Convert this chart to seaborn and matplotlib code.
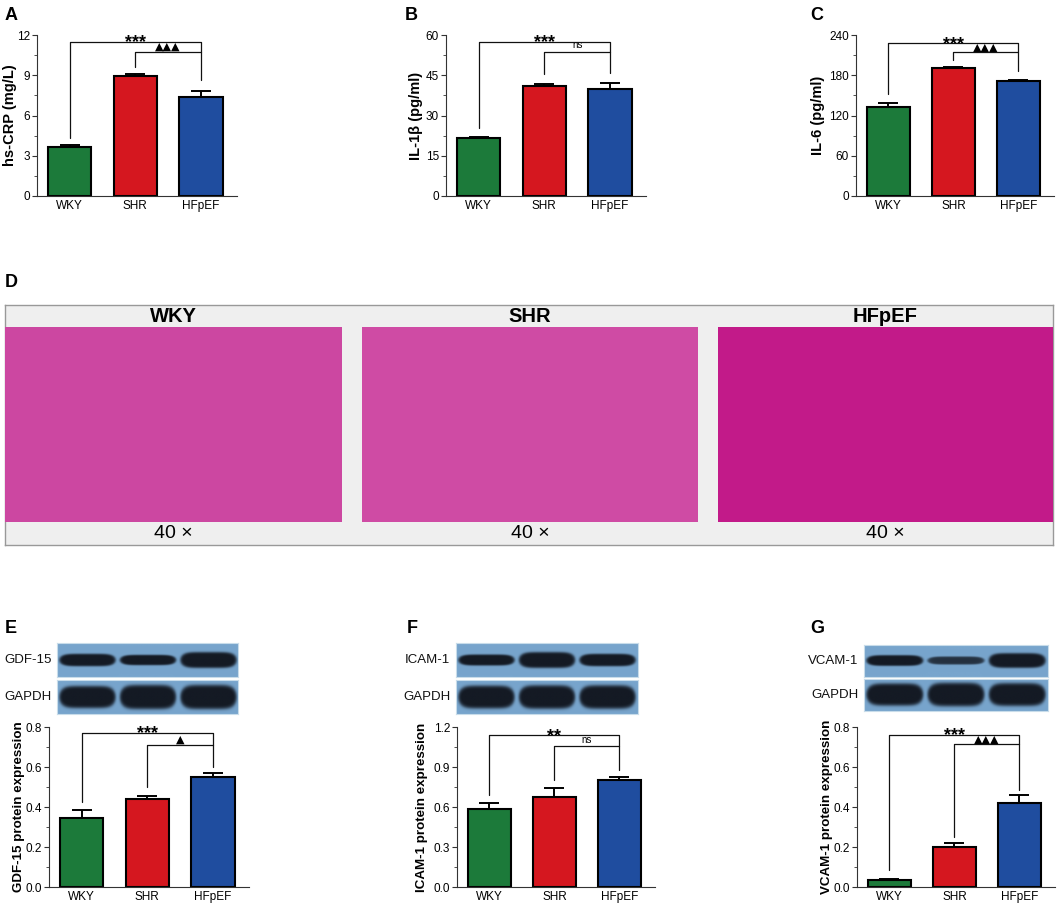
import numpy as np
import pandas as pd
import matplotlib
matplotlib.use("Agg")
import matplotlib.pyplot as plt
import seaborn as sns
from matplotlib.ticker import MultipleLocator, FormatStrFormatter

# ---------------- data ----------------
groups = ["WKY", "SHR", "HFpEF"]
bar_colors = ["#1c7a3a", "#d5171f", "#1f4d9f"]

crp_mean = [3.65, 8.92, 7.38]
crp_sem = [0.15, 0.17, 0.42]
il1b_mean = [21.5, 41.1, 39.8]
il1b_sem = [0.6, 0.8, 2.3]
il6_mean = [132.7, 190.8, 171.4]
il6_sem = [5.3, 2.0, 2.0]
gdf15_mean = [0.347, 0.438, 0.550]
gdf15_sem = [0.036, 0.015, 0.020]
icam1_mean = [0.585, 0.673, 0.800]
icam1_sem = [0.045, 0.067, 0.028]
vcam1_mean = [0.037, 0.200, 0.420]
vcam1_sem = [0.003, 0.022, 0.038]

# brackets: (x1, x2, level, leg1_bottom, leg2_bottom, label)
crp_brackets = [(0, 2, 11.5, 4.3, 10.75, "***"), (1, 2, 10.75, 9.63, 8.64, "▲▲▲")]
il1b_brackets = [(0, 2, 57.5, 25.5, 53.8, "***"), (1, 2, 53.8, 45.5, 46.0, "ns")]
il6_brackets = [(0, 2, 227.6, 151.6, 214.0, "***"), (1, 2, 214.0, 202.7, 186.3, "▲▲▲")]
gdf15_brackets = [(0, 2, 0.770, 0.425, 0.712, "***"), (1, 2, 0.712, 0.50, 0.60, "▲")]
icam1_brackets = [(0, 2, 1.138, 0.688, 1.055, "**"), (1, 2, 1.055, 0.80, 0.875, "ns")]
vcam1_brackets = [(0, 2, 0.762, 0.083, 0.713, "***"), (1, 2, 0.713, 0.25, 0.483, "▲▲▲")]

# western blot band thickness (fraction of strip height) and intensity per lane
gdf15_band = [0.36, 0.30, 0.46]
gdf15_int = [1.0, 1.0, 1.0]
gapdh_e_band = [0.64, 0.70, 0.70]
icam1_band = [0.32, 0.46, 0.36]
icam1_int = [1.0, 1.0, 1.0]
gapdh_f_band = [0.66, 0.68, 0.68]
vcam1_band = [0.32, 0.24, 0.44]
vcam1_int = [1.0, 0.8, 1.0]
gapdh_g_band = [0.66, 0.70, 0.68]
gapdh_int = [1.0, 1.0, 1.0]

histo_titles = ["WKY", "SHR", "HFpEF"]
histo_colors = ["#cc47a1", "#cf4ba4", "#c21a89"]
histo_mag = "40 ×"

# ---------------- figure ----------------
sns.set_theme(style="ticks")
plt.rcParams["font.family"] = ["Liberation Sans", "DejaVu Sans"]
plt.rcParams["axes.linewidth"] = 0.8
for k in ["text.color", "axes.labelcolor", "xtick.color", "ytick.color"]:
    plt.rcParams[k] = "black"

W, H = 1059, 907
fig = plt.figure(figsize=(W / 100, H / 100), dpi=100)
fig.patch.set_facecolor("white")


def ax_px(l, t, r, b, **kw):
    return fig.add_axes([l / W, 1 - b / H, (r - l) / W, (b - t) / H], **kw)


def bar_panel(ax, means, sems, ymax, step, fmt, ylabel, brackets, ylsize, labx):
    df = pd.DataFrame({"group": groups, "value": means})
    sns.barplot(data=df, x="group", y="value", hue="group", palette=bar_colors,
                order=groups, hue_order=groups, width=0.66, edgecolor="black",
                linewidth=1.5, errorbar=None, legend=False, saturation=1, ax=ax, zorder=2)
    ax.errorbar(np.arange(3), means, yerr=[np.zeros(3), sems], fmt="none",
                ecolor="black", elinewidth=1.4, capsize=7.5, capthick=1.4, zorder=3)
    ax.set_xlim(-0.5, 2.55)
    ax.set_ylim(0, ymax)
    ax.yaxis.set_major_locator(MultipleLocator(step))
    ax.yaxis.set_minor_locator(MultipleLocator(step / 2))
    ax.yaxis.set_major_formatter(FormatStrFormatter(fmt))
    ax.tick_params(axis="y", which="major", length=3.5, width=0.8, labelsize=8.5,
                   pad=1.5, color="#333333")
    ax.tick_params(axis="y", which="minor", length=2, width=0.6, color="#333333")
    ax.tick_params(axis="x", length=0, labelsize=8.5, pad=3)
    for s in ["top", "right"]:
        ax.spines[s].set_visible(False)
    for s in ["left", "bottom"]:
        ax.spines[s].set_color("#333333")
    ax.set_xlabel("")
    ax.set_ylabel(ylabel, fontsize=ylsize, fontweight="bold")
    ax.yaxis.set_label_coords(labx, 0.5)
    for x1, x2, lev, l1, l2, lab in brackets:
        ax.plot([x1, x1, x2, x2], [l1, lev, lev, l2], color="#111111", lw=0.9,
                clip_on=False, zorder=4)
        xm = (x1 + x2) / 2
        if lab.startswith("*"):
            ax.annotate(lab, xy=(xm, lev), xytext=(0, -4), textcoords="offset points",
                        ha="center", va="baseline", fontsize=13, fontweight="bold",
                        family=["Liberation Sans", "DejaVu Sans"], annotation_clip=False)
        elif lab == "ns":
            ax.annotate(lab, xy=(xm, lev), xytext=(0, 1.2), textcoords="offset points",
                        ha="center", va="bottom", fontsize=7, annotation_clip=False)
        else:
            ax.annotate(lab, xy=(xm, lev), xytext=(0, 1.2), textcoords="offset points",
                        ha="center", va="baseline", fontsize=8,
                        family=["DejaVu Sans"], annotation_clip=False)


def blot(ax, bands, ints, label):
    nx, ny = 420, 80
    xs = np.linspace(0, 3, nx)
    ys = np.linspace(0, 1, ny)
    X, Y = np.meshgrid(xs, ys)
    dark = np.zeros_like(X)
    for i, (t, it) in enumerate(zip(bands, ints)):
        c = i + 0.5
        r = (np.abs(X - c) / 0.46) ** 6 + (np.abs(Y - 0.5) / (t / 2)) ** 2
        dark = np.maximum(dark, it / (1 + np.exp((r - 1) / 0.18)))
    dark = np.clip(dark * 1.05, 0, 1)
    base = np.array([120, 165, 205]) / 255
    dk = np.array([20, 26, 36]) / 255
    img = base[None, None, :] * (1 - dark[..., None]) + dk[None, None, :] * dark[..., None]
    ax.imshow(img, extent=(0, 3, 0, 1), aspect="auto", origin="lower", interpolation="bilinear")
    ax.set_xlim(0, 3)
    ax.set_ylim(0, 1)
    ax.set_xticks([])
    ax.set_yticks([])
    for s in ax.spines.values():
        s.set_color("#c8dcea")
        s.set_linewidth(0.8)
    ax.annotate(label, xy=(0, 0.5), xycoords="axes fraction", xytext=(-4, 0),
                textcoords="offset points", ha="right", va="center", fontsize=9.5,
                color="#111111")


# ---- top row bar charts ----
axA = ax_px(37, 35, 237, 196)
bar_panel(axA, crp_mean, crp_sem, 12, 3, "%d", "hs-CRP (mg/L)", crp_brackets, 10.5, -0.10)
axB = ax_px(446, 35, 646, 196)
bar_panel(axB, il1b_mean, il1b_sem, 60, 15, "%d", "IL-1β (pg/ml)", il1b_brackets, 10.5, -0.115)
axC = ax_px(856, 35, 1054, 196)
bar_panel(axC, il6_mean, il6_sem, 240, 60, "%d", "IL-6 (pg/ml)", il6_brackets, 10.5, -0.155)

# ---- panel D ----
axD = ax_px(5, 305, 1053, 545)
axD.set_facecolor("#efefef")
axD.set_xticks([])
axD.set_yticks([])
for s in axD.spines.values():
    s.set_color("#999999")
    s.set_linewidth(1.0)
img_boxes = [(5, 327, 342, 522), (362, 327, 698, 522), (718, 327, 1053, 522)]
for (l, t, r, b), title, col in zip(img_boxes, histo_titles, histo_colors):
    a = ax_px(l, t, r, b)
    a.set_facecolor(col)
    a.set_xticks([])
    a.set_yticks([])
    for s in a.spines.values():
        s.set_visible(False)
    cx = (l + r) / 2
    fig.text(cx / W, 1 - 316 / H, title, ha="center", va="center", fontsize=14.5,
             fontweight="bold")
    fig.text(cx / W, 1 - 534 / H, histo_mag, ha="center", va="center", fontsize=14)

# ---- bottom row: blots + bars ----
blot(ax_px(57, 643, 238, 677), gdf15_band, gdf15_int, "GDF-15")
blot(ax_px(57, 680, 238, 714), gapdh_e_band, gapdh_int, "GAPDH")
blot(ax_px(456, 643, 638, 677), icam1_band, icam1_int, "ICAM-1")
blot(ax_px(456, 680, 638, 714), gapdh_f_band, gapdh_int, "GAPDH")
blot(ax_px(864, 645, 1048, 677), vcam1_band, vcam1_int, "VCAM-1")
blot(ax_px(864, 679, 1048, 711), gapdh_g_band, gapdh_int, "GAPDH")

axE = ax_px(49, 727, 249, 887)
bar_panel(axE, gdf15_mean, gdf15_sem, 0.8, 0.2, "%.1f", "GDF-15 protein expression",
          gdf15_brackets, 9.6, -0.12)
axF = ax_px(457, 727, 655, 887)
bar_panel(axF, icam1_mean, icam1_sem, 1.2, 0.3, "%.1f", "ICAM-1 protein expression",
          icam1_brackets, 9.6, -0.145)
axG = ax_px(857, 727, 1055, 887)
bar_panel(axG, vcam1_mean, vcam1_sem, 0.8, 0.2, "%.1f", "VCAM-1 protein expression",
          vcam1_brackets, 9.6, -0.12)

# ---- panel letters ----
letters = [("A", 5, 20), ("B", 405, 20), ("C", 810, 20), ("D", 5, 287),
           ("E", 5, 633), ("F", 407, 633), ("G", 810, 633)]
for t, x, y in letters:
    fig.text(x / W, 1 - y / H, t, ha="left", va="baseline", fontsize=13,
             fontweight="bold")

fig.savefig("out.png", dpi=100, facecolor="white")
